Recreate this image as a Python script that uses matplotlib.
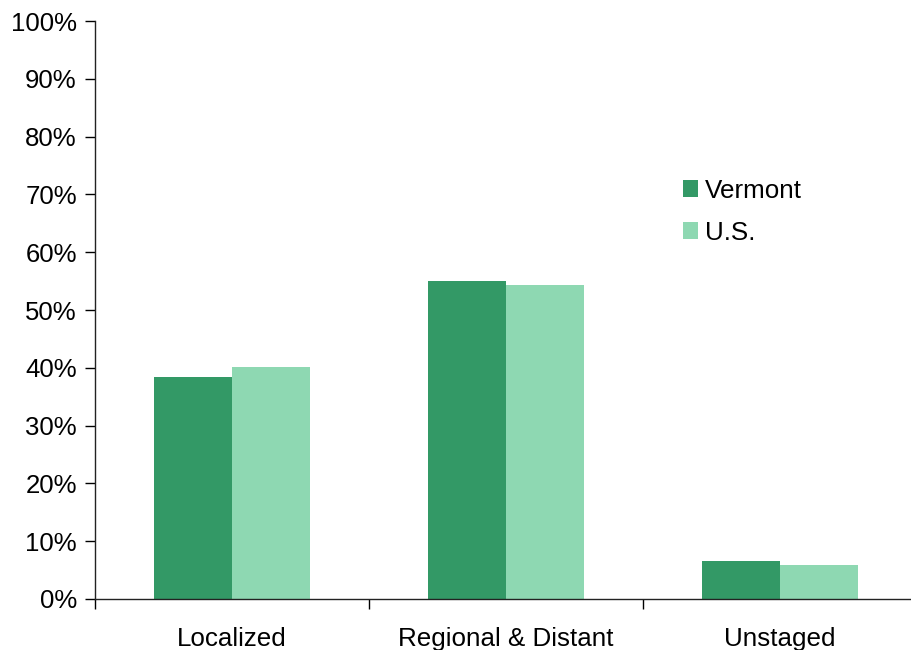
import matplotlib
matplotlib.use("Agg")
import matplotlib.pyplot as plt
import numpy as np
from matplotlib.patches import Patch
from matplotlib.ticker import FixedLocator

plt.rcParams['font.family'] = ['Liberation Sans', 'DejaVu Sans']

categories = ["Localized", "Regional & Distant", "Unstaged"]
vermont = [38.4, 55.0, 6.6]
us = [40.1, 54.3, 5.9]
series_names = ["Vermont", "U.S."]
colors = ["#339966", "#8ED8B2"]

fig = plt.figure(figsize=(9.12, 6.5), dpi=100)
ax = fig.add_axes([0.104, 0.0785, 0.901, 0.889])

x = np.arange(len(categories))
w = 0.285
ax.bar(x - w/2, vermont, width=w, color=colors[0], edgecolor='none')
ax.bar(x + w/2, us, width=w, color=colors[1], edgecolor='none')

ax.set_xlim(-0.5, len(categories) - 0.5)
ax.set_ylim(0, 100)
ax.set_yticks(np.arange(0, 101, 10))
ax.set_yticklabels([f"{v}%" for v in range(0, 101, 10)], fontsize=18.5)
ax.set_xticks(x)
ax.set_xticklabels(categories, fontsize=18.7)
ax.tick_params(axis='x', which='major', length=0, pad=20)
ax.xaxis.set_minor_locator(FixedLocator(np.arange(-0.5, len(categories), 1.0)))
ax.tick_params(axis='x', which='minor', length=7, direction='out', width=1)
ax.tick_params(axis='y', length=7, direction='out', width=1, pad=6)

for s in ['top', 'right']:
    ax.spines[s].set_visible(False)
for s in ['left', 'bottom']:
    ax.spines[s].set_linewidth(1)
    ax.spines[s].set_color('#222222')

handles = [Patch(facecolor=c, edgecolor='none') for c in colors]
ax.legend(handles, series_names, loc='upper left', bbox_to_anchor=(0.687, 0.768),
          frameon=False, fontsize=18.7, handlelength=0.6, handleheight=0.65,
          handletextpad=0.25, labelspacing=0.7)

fig.savefig("out.png", dpi=100)
